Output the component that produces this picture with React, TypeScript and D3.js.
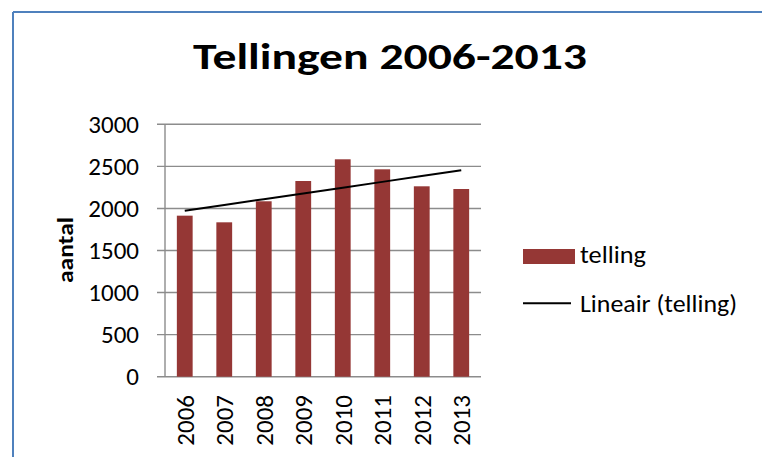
import React from "react";
import * as d3 from "d3";

const categories = ["2006", "2007", "2008", "2009", "2010", "2011", "2012", "2013"];
const telling = [1914, 1835, 2085, 2326, 2584, 2465, 2263, 2231];
const yTicks = [0, 500, 1000, 1500, 2000, 2500, 3000];
const title = "Tellingen 2006-2013";
const yTitle = "aantal";
const legendLabels = ["telling", "Lineair (telling)"];

const FONT = "Carlito, Calibri, Lato, 'Open Sans', sans-serif";

export default function App() {
  const W = 762, H = 457;
  const left = 165, right = 481, top = 124.3, bottom = 376.7;
  const x = d3.scaleBand<string>().domain(categories).range([left, right]).paddingInner(0.6).paddingOuter(0.3);
  const y = d3.scaleLinear().domain([0, 3000]).range([bottom, top]);

  // linear regression (trendline)
  const n = telling.length;
  const xs = d3.range(n);
  const mx = d3.mean(xs)!;
  const my = d3.mean(telling)!;
  const sxy = d3.sum(xs.map((i) => (i - mx) * (telling[i] - my)));
  const sxx = d3.sum(xs.map((i) => (i - mx) ** 2));
  const slope = sxy / sxx;
  const intercept = my - slope * mx;
  const trend = xs.map((i) => [x(categories[i])! + x.bandwidth() / 2, y(intercept + slope * i)] as [number, number]);
  const line = d3.line();

  return (
    <svg width={W} height={H} style={{ position: "absolute", left: 0, top: 0 }}>
      <rect x={0} y={0} width={W} height={H} fill="#fff" />
      <line x1={13} y1={12} x2={W} y2={12} stroke="#4F81BD" strokeWidth={2} />
      <line x1={13} y1={12} x2={13} y2={H} stroke="#4F81BD" strokeWidth={2} />
      <text x={193} y={69} fontFamily={FONT} fontWeight="bold" fontSize={37} fill="#000" textLength={394} lengthAdjust="spacingAndGlyphs">
        {title}
      </text>
      {yTicks.map((t) => (
        <g key={t}>
          <line x1={157} x2={right} y1={y(t)} y2={y(t)} stroke="#8c8c8c" strokeWidth={1.4} />
          <text x={139} y={y(t)} dy="0.35em" textAnchor="end" fontFamily={FONT} fontSize={25} fill="#000">
            {t}
          </text>
        </g>
      ))}
      <line x1={left} x2={left} y1={top} y2={bottom} stroke="#8c8c8c" strokeWidth={1.4} />
      {categories.map((c, i) => (
        <rect key={c} x={x(c)} y={y(telling[i])} width={x.bandwidth()} height={bottom - y(telling[i])} fill="#953735" />
      ))}
      <path d={line(trend)!} fill="none" stroke="#000" strokeWidth={2} />
      {categories.map((c) => (
        <text
          key={c}
          transform={`translate(${x(c)! + x.bandwidth() / 2},395) rotate(-90)`}
          textAnchor="end"
          dy="0.35em"
          fontFamily={FONT}
          fontSize={25}
          fill="#000"
        >
          {c}
        </text>
      ))}
      <text transform="translate(65,250) rotate(-90)" textAnchor="middle" dy="0.35em" fontFamily={FONT} fontWeight="bold" fontSize={22} fill="#000" textLength={66} lengthAdjust="spacingAndGlyphs">
        {yTitle}
      </text>
      <rect x={523} y={249} width={52} height={15} fill="#953735" />
      <text x={580} y={263} fontFamily={FONT} fontSize={25} fill="#000" textLength={66} lengthAdjust="spacingAndGlyphs">{legendLabels[0]}</text>
      <line x1={523} x2={571} y1={303.3} y2={303.3} stroke="#000" strokeWidth={2} />
      <text x={580} y={311.5} fontFamily={FONT} fontSize={25} fill="#000" textLength={157} lengthAdjust="spacingAndGlyphs">{legendLabels[1]}</text>
    </svg>
  );
}
